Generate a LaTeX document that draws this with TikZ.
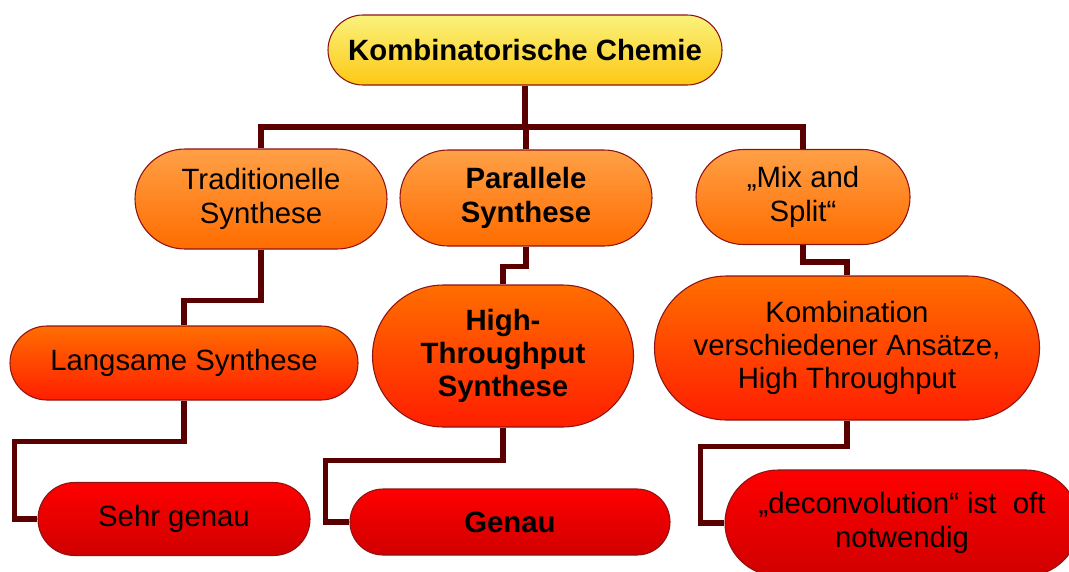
\documentclass[tikz,border=0pt]{standalone}
\usepackage{fontspec}
\setmainfont{Liberation Sans}
\usetikzlibrary{shapes.misc,calc}

\definecolor{linkred}{RGB}{90,0,0}
\definecolor{edgered}{RGB}{140,20,20}
\definecolor{yeltop}{RGB}{250,242,125}
\definecolor{yelbot}{RGB}{253,200,20}
\definecolor{ortop}{RGB}{255,160,70}
\definecolor{orbot}{RGB}{255,108,0}
\definecolor{redtop}{RGB}{255,110,0}
\definecolor{redbot}{RGB}{255,30,0}
\definecolor{deeptop}{RGB}{255,0,0}
\definecolor{deepbot}{RGB}{208,0,0}

\begin{document}
\begin{tikzpicture}[x=0.75pt,y=0.75pt,yscale=-1,xscale=1,
  pill/.style={rounded rectangle, draw=edgered, line width=0.8pt, inner sep=0pt,
    align=center, font=\fontsize{22}{25}\selectfont},
  lvlone/.style={pill, top color=yeltop, bottom color=yelbot},
  lvltwo/.style={pill, top color=ortop, bottom color=orbot},
  lvlthree/.style={pill, top color=redtop, bottom color=redbot},
  lvlfour/.style={pill, top color=deeptop, bottom color=deepbot},
  link/.style={draw=linkred, line width=4pt}]
\clip (0,0) rectangle (1069,571);

% Text Node
\node [lvlone, minimum width=295.5pt, minimum height=52.5pt] (top) at (525,50) {\bfseries Kombinatorische Chemie};
% Text Node
\node [lvltwo, minimum width=189pt, minimum height=75pt] (trad) at (261,199) {Traditionelle\\Synthese};
% Text Node
\node [lvltwo, minimum width=189pt, minimum height=72pt] (par) at (526,198) {\bfseries Parallele\\\bfseries Synthese};
% Text Node
\node [lvltwo, minimum width=160.5pt, minimum height=71.25pt] (mix) at (803,197) {„Mix and\\Split“};
% Text Node
\node [lvlthree, minimum width=261pt, minimum height=55.5pt] (lang) at (184,363) {Langsame Synthese};
% Text Node
\node [lvlthree, minimum width=195.75pt, minimum height=106.5pt] (ht) at (503,356) {\bfseries High-\\\bfseries Throughput\\\bfseries Synthese};
% Text Node
\node [lvlthree, minimum width=288.75pt, minimum height=108pt] (komb) at (847,348) {Kombination\\verschiedener Ansätze,\\High Throughput};
% Text Node
\node [lvlfour, minimum width=204pt, minimum height=54.75pt] (sehr) at (174,519) {Sehr genau};
% Text Node
\node [lvlfour, minimum width=240pt, minimum height=49.5pt] (genau) at (510,522) {\bfseries Genau};
% Text Node
\node [lvlfour, minimum width=265.5pt, minimum height=79.5pt] (deconv) at (902,523) {„deconvolution“ ist\ \ oft\\notwendig};

%Straight Lines
\coordinate (bar) at (525,127);
\draw [link] (top.south) -- (top.south |- bar);
\draw [link] (trad.north) |- (bar) -| (mix.north);
\draw [link] (par.north) -- (par.north |- bar);
\draw [link] (trad.south) -- ++(0,51) -| (lang.north);
\draw [link] (par.south) -- ++(0,20) -| (ht.north);
\draw [link] (mix.south) -- ++(0,17) -| (komb.north);
\draw [link] (lang.south) -- ++(0,41) -| ($(sehr.west)+(-23,0)$) -- (sehr.west);
\draw [link] (ht.south) -- ++(0,33) -| ($(genau.west)+(-24,0)$) -- (genau.west);
\draw [link] (komb.south) -- ++(0,26) -| ($(deconv.west)+(-24,0)$) -- (deconv.west);

\end{tikzpicture}
\end{document}
